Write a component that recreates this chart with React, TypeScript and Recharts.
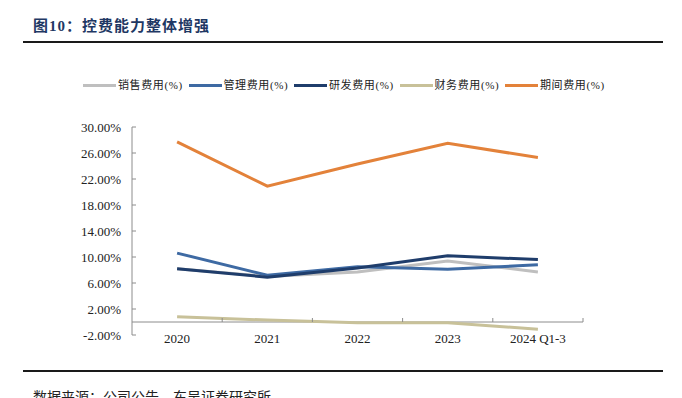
import React from 'react';
import { LineChart, Line, XAxis, YAxis, ReferenceLine } from 'recharts';

// categories and series (% of revenue)
const years = ['2020', '2021', '2022', '2023', '2024 Q1-3'];
const salesExp = [8.2, 7.0, 7.7, 9.4, 7.7];
const adminExp = [10.6, 7.2, 8.5, 8.1, 8.8];
const rdExp = [8.2, 6.9, 8.3, 10.2, 9.6];
const financeExp = [0.8, 0.3, -0.1, -0.1, -1.1];
const periodExp = [27.7, 20.9, 24.3, 27.5, 25.3];
const yTicks = [-2, 2, 6, 10, 14, 18, 22, 26, 30];

const series = [
  { key: 'sales', name: '销售费用(%)', color: '#BFBFBF', values: salesExp },
  { key: 'admin', name: '管理费用(%)', color: '#3E6AA3', values: adminExp },
  { key: 'rd', name: '研发费用(%)', color: '#1F3D6B', values: rdExp },
  { key: 'finance', name: '财务费用(%)', color: '#C8C199', values: financeExp },
  { key: 'period', name: '期间费用(%)', color: '#E3823A', values: periodExp },
];

const data = years.map((year, i) => {
  const row: any = { year };
  series.forEach((s) => (row[s.key] = s.values[i]));
  return row;
});

// plot box
const PLOT_LEFT = 132;
const PLOT_TOP = 127;
const PLOT_W = 451;
const PLOT_H = 208;
const Y_MIN = -2;
const Y_MAX = 30;
const ZERO_Y = PLOT_TOP + ((Y_MAX - 0) / (Y_MAX - Y_MIN)) * PLOT_H;
const HALF_BAND = PLOT_W / years.length / 2;

const serif = '"Liberation Serif", "Times New Roman", serif';
const cjk = '"Liberation Serif", "Noto Sans CJK SC", sans-serif';
const axisColor = '#8C8C8C';

const YTick = (props: any) => {
  const { x, y, payload } = props;
  return (
    <g>
      <line x1={PLOT_LEFT} x2={PLOT_LEFT + 4} y1={y} y2={y} stroke={axisColor} strokeWidth={1} />
      <text x={x} y={y} dy="0.35em" textAnchor="end" fontFamily={serif} fontSize={13} fill="#222">
        {payload.value.toFixed(2)}%
      </text>
    </g>
  );
};

const XTick = (props: any) => {
  const { x, y, payload } = props;
  return (
    <g>
      <line x1={x + HALF_BAND} x2={x + HALF_BAND} y1={ZERO_Y - 4} y2={ZERO_Y} stroke={axisColor} strokeWidth={1} />
      <text x={x} y={y + 3} dy="0.35em" textAnchor="middle" fontFamily={serif} fontSize={13} fill="#222">
        {payload.value}
      </text>
    </g>
  );
};

const rule = (top: number): React.CSSProperties => ({
  position: 'absolute',
  left: 23,
  top,
  width: 640,
  height: 2,
  background: '#1a1a1a',
});

export default function App() {
  return (
    <div
      style={{
        position: 'absolute',
        left: 0,
        top: 0,
        width: 682,
        height: 398,
        overflow: 'hidden',
        background: '#fff',
      }}
    >
      <div
        style={{
          position: 'absolute',
          left: 33,
          top: 16,
          fontFamily: cjk,
          fontSize: 15,
          fontWeight: 'bold',
          letterSpacing: 1,
          color: '#1F3864',
          lineHeight: '20px',
          whiteSpace: 'nowrap',
        }}
      >
        图10：控费能力整体增强
      </div>
      <div style={rule(41)} />

      {/* legend */}
      <div
        style={{
          position: 'absolute',
          left: 83,
          top: 77,
          height: 16,
          display: 'flex',
          alignItems: 'center',
          whiteSpace: 'nowrap',
        }}
      >
        {series.map((s) => (
          <div key={s.key} style={{ display: 'flex', alignItems: 'center', marginRight: 4.5 }}>
            <span style={{ display: 'inline-block', width: 33, height: 3, background: s.color, marginRight: 2 }} />
            <span
              style={{
                display: 'inline-block',
                width: 66,
                fontFamily: cjk,
                fontSize: 11,
                letterSpacing: 0.6,
                color: '#222',
                lineHeight: '16px',
              }}
            >
              {s.name}
            </span>
          </div>
        ))}
      </div>

      <div style={{ position: 'absolute', left: 0, top: 0 }}>
        <LineChart
          width={682}
          height={398}
          data={data}
          margin={{ top: PLOT_TOP, right: 682 - PLOT_LEFT - PLOT_W, bottom: 398 - PLOT_TOP - PLOT_H - 30, left: 0 }}
        >
          <XAxis
            dataKey="year"
            height={30}
            axisLine={false}
            tickLine={false}
            tickSize={0}
            tickMargin={0}
            padding={{ left: HALF_BAND, right: HALF_BAND }}
            interval={0}
            tick={<XTick />}
          />
          <YAxis
            width={PLOT_LEFT}
            domain={[Y_MIN, Y_MAX]}
            ticks={yTicks}
            allowDataOverflow
            axisLine={{ stroke: axisColor }}
            tickLine={false}
            tickSize={0}
            tickMargin={11}
            interval={0}
            tick={<YTick />}
          />
          <ReferenceLine y={0} stroke={axisColor} strokeWidth={1} />
          {series.map((s) => (
            <Line
              key={s.key}
              dataKey={s.key}
              name={s.name}
              type="linear"
              stroke={s.color}
              strokeWidth={3}
              dot={false}
              activeDot={false}
              isAnimationActive={false}
            />
          ))}
        </LineChart>
      </div>

      <div style={rule(370)} />
      <div
        style={{
          position: 'absolute',
          left: 33,
          top: 389,
          fontFamily: cjk,
          fontSize: 14,
          color: '#222',
          lineHeight: '18px',
          whiteSpace: 'nowrap',
        }}
      >
        数据来源：公司公告，东吴证券研究所
      </div>
    </div>
  );
}
